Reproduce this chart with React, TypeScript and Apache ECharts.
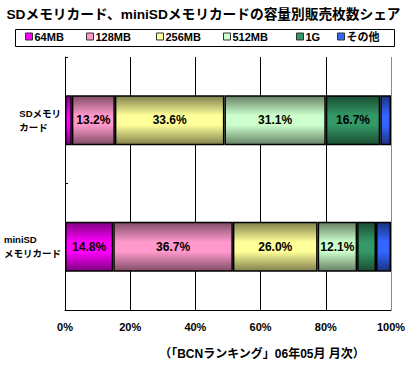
import React, { useEffect, useRef } from "react";
import * as echarts from "echarts";

const categories = ["SDメモリ\nカード", "miniSD\nメモリカード"];
const seriesNames = ["64MB", "128MB", "256MB", "512MB", "1G", "その他"];
const v64 = [2.1, 14.8];
const v128 = [13.2, 36.7];
const v256 = [33.6, 26.0];
const v512 = [31.1, 12.1];
const v1g = [16.7, 5.8];
const vOther = [3.3, 4.6];
const xTicks = [0, 20, 40, 60, 80, 100];

const lightColors = ["#FF00FF", "#FF99CC", "#FFFF99", "#CCFFCC", "#339966", "#3366FF"];
const darkColors = ["#800080", "#804D66", "#80804D", "#668066", "#1A4D33", "#1A3380"];
const legendX = [25, 86, 156, 223, 296, 337];

const FONT = "'Liberation Sans', 'Noto Sans CJK JP', sans-serif";

export default function App() {
  const ref = useRef<HTMLDivElement>(null);
  useEffect(() => {
    if (!ref.current) return;
    const chart = echarts.init(ref.current, null, { renderer: "svg" });
    const values = [v64, v128, v256, v512, v1g, vOther];
    const series = seriesNames.map((name, i) => ({
      name,
      type: "bar",
      stack: "total",
      barWidth: 50,
      data: values[i],
      itemStyle: {
        color: new echarts.graphic.LinearGradient(0, 0, 0, 1, [
          { offset: 0, color: darkColors[i] },
          { offset: 0.4, color: lightColors[i] },
          { offset: 0.6, color: lightColors[i] },
          { offset: 1, color: darkColors[i] },
        ]),
        borderColor: "#000",
        borderWidth: 1.5,
      },
      label: {
        show: true,
        position: "inside",
        formatter: (p: any) => (p.value >= 10 ? p.value.toFixed(1) + "%" : ""),
        color: "#000",
        fontFamily: FONT,
        fontWeight: "bold",
        fontSize: 12,
      },
    }));
    const legends = seriesNames.map((name, i) => ({
      left: legendX[i],
      top: 31,
      padding: 0,
      itemWidth: 7,
      itemHeight: 7,
      itemGap: 0,
      icon: "rect",
      selectedMode: false,
      data: [
        {
          name,
          itemStyle: { color: lightColors[i], borderColor: "#333", borderWidth: 1 },
        },
      ],
      textStyle: {
        color: "#000",
        fontFamily: FONT,
        fontWeight: "bold",
        fontSize: 11,
        padding: [0, 0, 0, -3],
      },
    }));
    chart.setOption({
      animation: false,
      title: {
        text: "SDメモリカード、miniSDメモリカードの容量別販売枚数シェア",
        left: "center",
        top: 3,
        textStyle: { fontFamily: FONT, fontWeight: "bold", fontSize: 13.7, color: "#000" },
      },
      legend: legends,
      grid: {
        left: 65,
        right: 16,
        top: 57,
        bottom: 57,
        containLabel: false,
        outerBoundsMode: "none",
      },
      xAxis: {
        type: "value",
        min: xTicks[0],
        max: xTicks[xTicks.length - 1],
        interval: 20,
        axisLine: { show: true, lineStyle: { color: "#000", width: 1 } },
        axisTick: { show: false },
        axisLabel: {
          formatter: "{value}%",
          color: "#000",
          fontFamily: FONT,
          fontWeight: "bold",
          fontSize: 11,
          margin: 11,
        },
        splitLine: {
          show: true,
          lineStyle: { color: ["#000", "#000", "#000", "#000", "#000", "#888"], width: 1 },
        },
      },
      yAxis: {
        type: "category",
        data: categories,
        inverse: true,
        axisLine: { show: true, lineStyle: { color: "#000", width: 1 } },
        axisTick: { show: true, inside: true, length: 3, lineStyle: { color: "#000" } },
        axisLabel: {
          margin: 4,
          align: "right",
          formatter: (v: string) =>
            v
              .split("\n")
              .map((l) => `{a|${l}}`)
              .join("\n"),
          rich: {
            a: {
              align: "left",
              fontFamily: FONT,
              fontWeight: "bold",
              fontSize: 9.5,
              lineHeight: 14,
              color: "#000",
            },
          },
        },
      },
      graphic: [
        {
          type: "rect",
          shape: { x: 15.5, y: 29.5, width: 379, height: 17 },
          style: { fill: "none", stroke: "#000", lineWidth: 1 },
          silent: true,
        },
        {
          type: "text",
          x: 262,
          y: 354,
          style: {
            text: "（「BCNランキング」06年05月 月次）",
            fontFamily: FONT,
            fontWeight: "bold",
            fontSize: 12,
            fill: "#000",
            textAlign: "center",
            textVerticalAlign: "middle",
          },
        },
      ],
      series,
    });
    return () => chart.dispose();
  }, []);
  return (
    <div
      ref={ref}
      style={{ position: "fixed", left: 0, top: 0, width: 407, height: 367, background: "#fff" }}
    />
  );
}
